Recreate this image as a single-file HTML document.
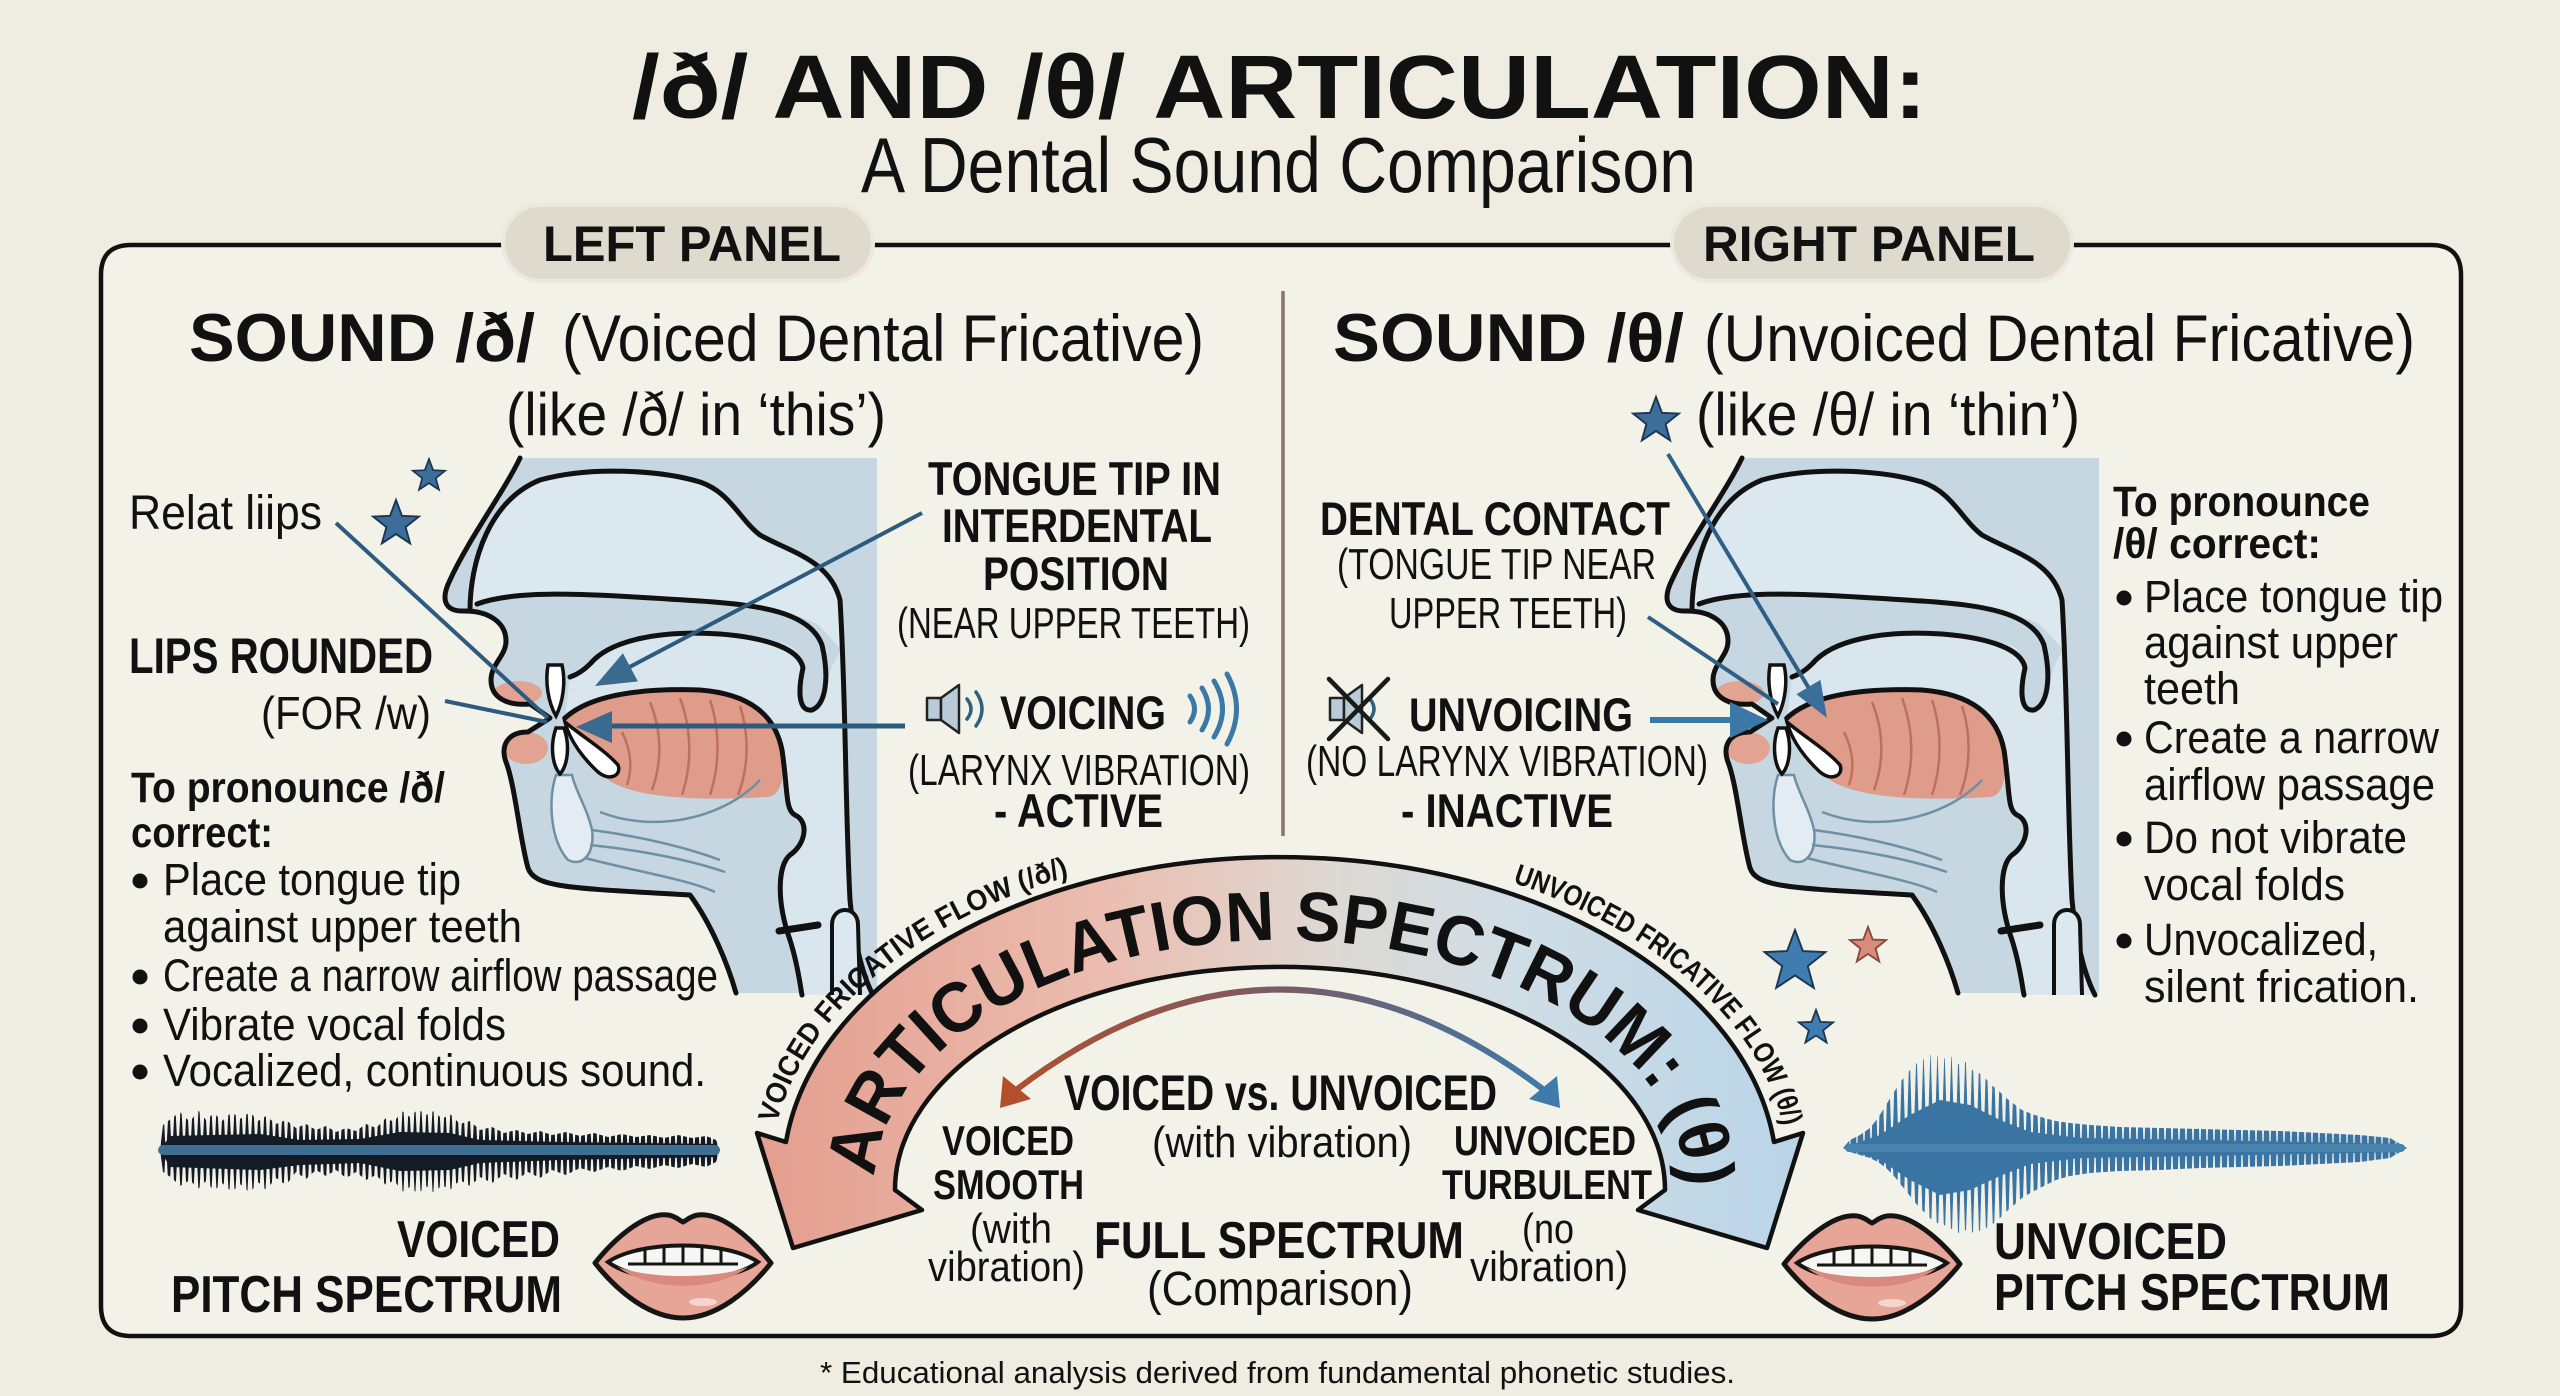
<!DOCTYPE html>
<html><head><meta charset="utf-8"><title>/ð/ and /θ/ Articulation</title>
<style>html,body{margin:0;padding:0;background:#efede2;}svg{display:block;}</style></head>
<body>
<svg width="2560" height="1396" viewBox="0 0 2560 1396" xmlns="http://www.w3.org/2000/svg" xmlns:xlink="http://www.w3.org/1999/xlink" font-family="'Liberation Sans', Arial, sans-serif">
<defs>
  <linearGradient id="band" gradientUnits="userSpaceOnUse" x1="760" y1="0" x2="1810" y2="0">
    <stop offset="0" stop-color="#e49e8e"/>
    <stop offset="0.33" stop-color="#ebbdb0"/>
    <stop offset="0.55" stop-color="#ddd9d3"/>
    <stop offset="0.72" stop-color="#cfdde6"/>
    <stop offset="1" stop-color="#b9d4e7"/>
  </linearGradient>
  <linearGradient id="inarr" gradientUnits="userSpaceOnUse" x1="1000" y1="0" x2="1560" y2="0">
    <stop offset="0" stop-color="#b24f2c"/>
    <stop offset="0.5" stop-color="#7a5a66"/>
    <stop offset="1" stop-color="#3c7bab"/>
  </linearGradient>
  <pattern id="spL" patternUnits="userSpaceOnUse" x="160" y="1100" width="6" height="100">
    <polygon points="3,0 5.6,50 3,100 0.4,50" fill="#141b24"/>
  </pattern>
  <pattern id="spR" patternUnits="userSpaceOnUse" x="1843" y="1048" width="7" height="200">
    <polygon points="3.5,0 6.6,100 3.5,200 0.4,100" fill="#3a74a3"/>
  </pattern>
  <clipPath id="cL"><polygon points="160,1150 163,1125 172,1118 180,1112 190,1122 198,1110 206,1120 214,1113 222,1121 232,1112 240,1119 250,1112 258,1121 266,1116 276,1124 286,1120 296,1128 306,1124 316,1130 326,1126 336,1132 346,1128 356,1131 366,1124 376,1128 386,1118 394,1122 402,1111 410,1117 418,1109 426,1115 434,1111 442,1119 450,1114 460,1124 470,1121 480,1130 492,1127 504,1133 516,1130 528,1134 540,1131 552,1135 566,1132 580,1136 594,1133 608,1137 622,1134 636,1137 650,1135 664,1138 678,1135 692,1138 706,1136 716,1140 720,1150 716,1162 706,1167 692,1164 678,1168 664,1165 650,1169 636,1166 622,1171 608,1167 594,1172 580,1168 566,1175 552,1170 540,1178 528,1172 516,1180 504,1174 492,1183 480,1177 470,1186 460,1180 450,1190 442,1185 434,1193 426,1186 418,1194 410,1187 402,1192 394,1180 386,1185 376,1175 366,1180 356,1172 346,1178 336,1170 326,1176 316,1170 306,1179 296,1172 286,1185 276,1178 266,1190 258,1182 250,1193 240,1184 232,1192 222,1183 214,1191 206,1181 198,1189 190,1180 180,1186 172,1178 163,1172"/></clipPath>
  <clipPath id="cR"><polygon points="1843,1148 1850,1140 1860,1135 1870,1128 1878,1118 1886,1105 1894,1092 1902,1080 1910,1070 1918,1062 1926,1058 1934,1052 1942,1060 1950,1055 1958,1064 1966,1062 1974,1072 1982,1074 1990,1084 1998,1090 2006,1098 2014,1104 2022,1110 2032,1114 2044,1118 2056,1121 2070,1123 2090,1125 2120,1127 2160,1128 2200,1129 2240,1130 2280,1131 2320,1133 2360,1135 2390,1138 2407,1148 2390,1158 2360,1162 2320,1164 2280,1166 2240,1167 2200,1168 2160,1170 2120,1171 2090,1173 2070,1176 2056,1180 2044,1186 2032,1192 2022,1198 2014,1205 2006,1212 1998,1220 1990,1226 1982,1230 1974,1233 1966,1230 1958,1233 1950,1228 1942,1224 1934,1222 1926,1214 1918,1206 1910,1196 1902,1186 1894,1176 1886,1168 1878,1162 1870,1158 1860,1155 1850,1152"/></clipPath>
  <path id="tpMain" d="M875,1185 A405,245 0 1 1 1685,1185" fill="none"/>
  <path id="tpOuter" d="M770,1178 A510,332 0 0 1 1790,1178" fill="none"/>

  <g id="head">
    <path d="M520,458 C505,490 468,540 450,580 C440,600 445,612 465,611 C488,611 506,622 506,641 C506,656 491,664 491,680 C491,697 506,706 530,704 L550,718 L528,732 C508,732 500,745 506,762 C515,785 520,840 528,868 C535,888 570,888 690,895 C712,925 728,965 736,993 L877,993 L877,458 Z" fill="#c7d7e1"/>
    <path d="M470,611 C470,560 490,500 540,480 C590,466 660,470 700,482 C730,492 740,520 760,535 C790,552 830,560 840,600 L843,650 C830,640 822,625 813,622 C780,608 740,603 700,601 C600,595 520,588 477,604 Z" fill="#dce8ef"/>
    <path d="M570,677 C590,664 610,640 663,632 C720,634 770,638 790,646 C800,650 803,668 800,696 C798,712 812,710 820,706 C826,690 830,660 843,650 L847,801 C850,900 855,950 873,995 L802,995 C800,985 798,965 790,940 C776,900 778,865 790,855 C805,845 810,822 795,815 C785,810 790,790 782,750 C775,715 750,694 700,690 C640,688 590,695 565,718 Z" fill="#d9e6ed"/>
    <path d="M563,722 C585,698 640,688 700,690 C750,693 775,712 781,745 C786,775 782,795 768,797 C720,800 660,800 625,788 C595,778 575,750 563,722 Z" fill="#df9c8b"/>
    <g stroke="#bf6f5d" stroke-width="2.5" fill="none">
      <path d="M650,702 C662,732 662,762 652,790"/>
      <path d="M680,698 C692,730 692,765 682,795"/>
      <path d="M710,700 C720,730 720,765 710,795"/>
      <path d="M740,706 C750,736 748,770 738,795"/>
      <path d="M622,732 C632,752 632,770 627,785"/>
    </g>
    <ellipse cx="518" cy="693" rx="24" ry="12" fill="#e3a392"/>
    <ellipse cx="526" cy="748" rx="22" ry="16" fill="#e3a392"/>
    <path d="M556,775 C548,800 550,840 568,860 C585,868 595,850 592,830 C588,810 575,790 572,775 Z" fill="#e2ecf2" stroke="#6f8fa3" stroke-width="2.5"/>
    <g stroke="#6f8fa3" stroke-width="2.5" fill="none">
      <path d="M592,830 C630,835 680,845 720,860"/>
      <path d="M590,845 C640,850 690,860 725,872"/>
      <path d="M585,858 C630,870 690,880 715,892"/>
      <path d="M600,812 C650,832 720,822 760,780"/>
    </g>
    <g stroke="#111" stroke-width="5" fill="none" stroke-linejoin="round" stroke-linecap="round">
      <path d="M520,458 C505,490 468,540 450,580 C440,600 445,612 465,611 C488,611 506,622 506,641 C506,656 491,664 491,680 C491,697 506,706 530,704 L550,718 L528,732 C508,732 500,745 506,762 C515,785 520,840 528,868 C535,888 570,888 690,895 C712,925 728,965 736,993"/>
      <path d="M470,611 C470,560 490,500 540,480 C590,466 660,470 700,482 C730,492 740,520 760,535 C790,552 830,560 840,600 C846,700 845,800 850,900 C855,950 865,980 873,995"/>
      <path d="M477,604 C520,588 600,595 700,601 C760,605 810,612 822,645 C830,680 825,705 812,710 C798,712 798,690 803,668 C800,650 770,638 720,634 C660,630 610,640 590,664 C582,672 576,675 570,677"/>
      <path d="M565,718 C590,695 640,688 700,690 C750,694 775,715 782,750 C788,790 785,810 795,815 C810,822 805,845 790,855 C778,865 776,900 790,940 C798,965 800,985 802,995"/>
      <path d="M779,931 L818,925" stroke-width="7"/>
    </g>
    <path d="M832,995 L832,925 C832,905 858,905 858,925 L860,995" fill="#dce8ef" stroke="#111" stroke-width="4"/>
    <path d="M548,665 C545,682 548,702 556,716 C563,702 566,682 562,665 Z" fill="#fff" stroke="#111" stroke-width="3.5"/>
    <path d="M556,728 C550,745 552,765 560,774 C568,765 570,745 564,728 Z" fill="#fff" stroke="#111" stroke-width="3.5"/>
    <path d="M565,722 C580,735 605,750 618,765 C622,775 610,782 598,772 C585,760 570,742 565,722 Z" fill="#fff" stroke="#111" stroke-width="3.5"/>
  </g>

  <g id="lips">
    <path d="M595,1263 C615,1238 645,1212 668,1215 C676,1216 680,1221 683,1222 C686,1221 690,1216 698,1215 C721,1212 751,1238 771,1263 C748,1292 716,1318 683,1318 C650,1318 618,1292 595,1263 Z" fill="#e6a596" stroke="#151515" stroke-width="5" stroke-linejoin="round"/>
    <path d="M608,1262 C640,1240 726,1240 758,1262 C726,1286 640,1286 608,1262 Z" fill="#f6f6f4" stroke="#151515" stroke-width="4"/>
    <path d="M618,1267 C650,1292 716,1292 748,1267 C716,1279 650,1279 618,1267 Z" fill="#d98a7c"/>
    <g stroke="#151515" stroke-width="3">
      <line x1="628" y1="1264" x2="738" y2="1264"/>
      <line x1="645" y1="1248" x2="645" y2="1264"/>
      <line x1="664" y1="1246" x2="664" y2="1264"/>
      <line x1="683" y1="1245" x2="683" y2="1264"/>
      <line x1="702" y1="1246" x2="702" y2="1264"/>
      <line x1="721" y1="1248" x2="721" y2="1264"/>
    </g>
    <ellipse cx="703" cy="1302" rx="14" ry="4" fill="#fff" opacity="0.55"/>
  </g>
  <polygon id="star" points="0,-1 0.247,-0.34 0.951,-0.309 0.399,0.13 0.588,0.809 0,0.42 -0.588,0.809 -0.399,0.13 -0.951,-0.309 -0.247,-0.34"/>
</defs>

<!-- background -->
<rect x="0" y="0" width="2560" height="1396" fill="#efede2"/>
<rect x="101" y="245" width="2360" height="1091" rx="30" fill="#f3f2e8"/>

<!-- Title -->
<text x="632" y="118" font-size="90" font-weight="bold" fill="#111" textLength="1295" lengthAdjust="spacingAndGlyphs">/ð/ AND /θ/ ARTICULATION:</text>
<text x="861" y="192" font-size="78" fill="#111" textLength="835" lengthAdjust="spacingAndGlyphs">A Dental Sound Comparison</text>

<!-- Panel border -->
<g stroke="#111" stroke-width="4.5" fill="none" stroke-linecap="round">
  <path d="M503,245 L131,245 Q101,245 101,275 L101,1306 Q101,1336 131,1336 L2431,1336 Q2461,1336 2461,1306 L2461,275 Q2461,245 2431,245 L2072,245"/>
  <path d="M873,245 L1672,245"/>
</g>
<rect x="503" y="205" width="370" height="76" rx="38" fill="#dedacd" stroke="#ebe8de" stroke-width="4"/>
<rect x="1672" y="205" width="400" height="76" rx="38" fill="#dedacd" stroke="#ebe8de" stroke-width="4"/>
<text x="543" y="261" font-size="50" font-weight="bold" fill="#111" textLength="298" lengthAdjust="spacingAndGlyphs">LEFT PANEL</text>
<text x="1703" y="261" font-size="50" font-weight="bold" fill="#111" textLength="332" lengthAdjust="spacingAndGlyphs">RIGHT PANEL</text>

<!-- divider -->
<line x1="1283" y1="291" x2="1283" y2="836" stroke="#86766a" stroke-width="3.5"/>

<!-- Headers -->
<text x="189" y="361" font-size="68" font-weight="bold" fill="#111" textLength="346" lengthAdjust="spacingAndGlyphs">SOUND /ð/</text>
<text x="562" y="361" font-size="66" fill="#111" textLength="642" lengthAdjust="spacingAndGlyphs">(Voiced Dental Fricative)</text>
<text x="506" y="435" font-size="60" fill="#111" textLength="380" lengthAdjust="spacingAndGlyphs">(like /ð/ in ‘this’)</text>
<text x="1333" y="361" font-size="68" font-weight="bold" fill="#111" textLength="351" lengthAdjust="spacingAndGlyphs">SOUND /θ/</text>
<text x="1704" y="361" font-size="66" fill="#111" textLength="711" lengthAdjust="spacingAndGlyphs">(Unvoiced Dental Fricative)</text>
<text x="1696" y="435" font-size="60" fill="#111" textLength="384" lengthAdjust="spacingAndGlyphs">(like /θ/ in ‘thin’)</text>

<!-- Heads -->
<use xlink:href="#head" href="#head"/>
<use xlink:href="#head" href="#head" transform="translate(1222,0)"/>

<!-- Stars -->
<g fill="#3d6e9b" stroke="#1c3550">
  <use xlink:href="#star" href="#star" transform="translate(429,476) scale(17)" stroke-width="0.1"/>
  <use xlink:href="#star" href="#star" transform="translate(396,524) scale(24)" stroke-width="0.08"/>
  <use xlink:href="#star" href="#star" transform="translate(1656,421) scale(24)" stroke-width="0.08"/>
  <use xlink:href="#star" href="#star" transform="translate(1795,962) scale(32)" stroke-width="0.06" fill="#3f7db0"/>
  <use xlink:href="#star" href="#star" transform="translate(1816,1028) scale(18)" stroke-width="0.1" fill="#3f7db0"/>
</g>
<use xlink:href="#star" href="#star" transform="translate(1868,946) scale(19)" fill="#d98c7c" stroke="#8a4a3e" stroke-width="0.1"/>

<!-- Left labels -->
<text x="129" y="529" font-size="48" fill="#111" textLength="193" lengthAdjust="spacingAndGlyphs">Relat liips</text>
<text x="129" y="673" font-size="50" font-weight="bold" fill="#111" textLength="304" lengthAdjust="spacingAndGlyphs">LIPS ROUNDED</text>
<text x="261" y="729" font-size="46" fill="#111" textLength="170" lengthAdjust="spacingAndGlyphs">(FOR /w)</text>
<text x="131" y="802" font-size="43" font-weight="bold" fill="#111" textLength="314" lengthAdjust="spacingAndGlyphs">To pronounce /ð/</text>
<text x="131" y="847" font-size="43" font-weight="bold" fill="#111" textLength="142" lengthAdjust="spacingAndGlyphs">correct:</text>
<g fill="#111">
  <circle cx="140" cy="881" r="7.5"/><circle cx="140" cy="977" r="7.5"/><circle cx="140" cy="1026" r="7.5"/><circle cx="140" cy="1072" r="7.5"/>
</g>
<g font-size="45" fill="#111">
  <text x="163" y="895" textLength="298" lengthAdjust="spacingAndGlyphs">Place tongue tip</text>
  <text x="163" y="942" textLength="359" lengthAdjust="spacingAndGlyphs">against upper teeth</text>
  <text x="163" y="991" textLength="555" lengthAdjust="spacingAndGlyphs">Create a narrow airflow passage</text>
  <text x="163" y="1040" textLength="343" lengthAdjust="spacingAndGlyphs">Vibrate vocal folds</text>
  <text x="163" y="1086" textLength="543" lengthAdjust="spacingAndGlyphs">Vocalized, continuous sound.</text>
</g>

<!-- Left head arrows -->
<g stroke="#2d5a7d" stroke-width="4" fill="none">
  <line x1="336" y1="523" x2="548" y2="718"/>
  <line x1="445" y1="701" x2="547" y2="722"/>
  <line x1="922" y1="513" x2="622" y2="671"/>
  <line x1="905" y1="726" x2="605" y2="726" stroke-width="5"/>
</g>
<polygon points="595,686 637.9,681.4 622.9,653.2" fill="#3a6a8e"/>
<polygon points="576,727 612,711 612,743" fill="#3a6a8e"/>

<!-- Middle-left labels -->
<g font-weight="bold" font-size="47" fill="#111">
  <text x="928" y="495" textLength="293" lengthAdjust="spacingAndGlyphs">TONGUE TIP IN</text>
  <text x="942" y="542" textLength="270" lengthAdjust="spacingAndGlyphs">INTERDENTAL</text>
  <text x="983" y="590" textLength="186" lengthAdjust="spacingAndGlyphs">POSITION</text>
  <text x="1000" y="729" textLength="166" lengthAdjust="spacingAndGlyphs">VOICING</text>
  <text x="994" y="827" textLength="169" lengthAdjust="spacingAndGlyphs">- ACTIVE</text>
</g>
<g font-size="44" fill="#111">
  <text x="897" y="638" textLength="353" lengthAdjust="spacingAndGlyphs">(NEAR UPPER TEETH)</text>
  <text x="908" y="785" textLength="342" lengthAdjust="spacingAndGlyphs">(LARYNX VIBRATION)</text>
</g>
<!-- speaker left -->
<g stroke="#222" stroke-width="2.5" fill="#b9cbd7" stroke-linejoin="round">
  <rect x="927" y="698" width="14" height="22"/>
  <polygon points="941,698 959,685 959,733 941,720"/>
</g>
<g stroke="#2f5f82" stroke-width="3.5" fill="none" stroke-linecap="round">
  <path d="M967,699 Q975,709 967,719"/>
  <path d="M976,692 Q988,709 976,726"/>
</g>
<g stroke="#3a78a8" stroke-width="5" fill="none" stroke-linecap="round">
  <path d="M1190,696 Q1199,709 1190,722"/>
  <path d="M1202,688 Q1215,709 1202,730"/>
  <path d="M1214,681 Q1231,709 1214,737"/>
  <path d="M1227,674 Q1246,709 1227,744"/>
</g>

<!-- Middle-right labels -->
<g font-weight="bold" font-size="47" fill="#111">
  <text x="1320" y="535" textLength="350" lengthAdjust="spacingAndGlyphs">DENTAL CONTACT</text>
  <text x="1409" y="731" textLength="224" lengthAdjust="spacingAndGlyphs">UNVOICING</text>
  <text x="1401" y="827" textLength="212" lengthAdjust="spacingAndGlyphs">- INACTIVE</text>
</g>
<g font-size="44" fill="#111">
  <text x="1337" y="579" textLength="319" lengthAdjust="spacingAndGlyphs">(TONGUE TIP NEAR</text>
  <text x="1389" y="628" textLength="238" lengthAdjust="spacingAndGlyphs">UPPER TEETH)</text>
  <text x="1306" y="776" textLength="402" lengthAdjust="spacingAndGlyphs">(NO LARYNX VIBRATION)</text>
</g>
<!-- muted speaker -->
<g stroke="#222" stroke-width="2.5" fill="#b9cbd7" stroke-linejoin="round">
  <rect x="1330" y="698" width="14" height="22"/>
  <polygon points="1344,698 1362,685 1362,733 1344,720"/>
</g>
<path d="M1370,699 Q1378,709 1370,719" stroke="#2f5f82" stroke-width="3.5" fill="none"/>
<g stroke="#1a1a1a" stroke-width="4.5" stroke-linecap="round">
  <line x1="1329" y1="679" x2="1388" y2="739"/>
  <line x1="1388" y1="679" x2="1329" y2="739"/>
</g>
<!-- right head arrows -->
<g stroke="#2f5f86" stroke-width="4" fill="none">
  <line x1="1668" y1="454" x2="1810" y2="690"/>
  <line x1="1648" y1="617" x2="1778" y2="704"/>
</g>
<polygon points="1827,718 1820.4,679.9 1796.4,694.3" fill="#3b6f9a"/>
<line x1="1650" y1="720" x2="1735" y2="720" stroke="#3a78a8" stroke-width="6"/>
<polygon points="1768,720 1730,702 1730,738" fill="#3a78a8"/>

<!-- Right column -->
<text x="2113" y="516" font-size="43" font-weight="bold" fill="#111" textLength="257" lengthAdjust="spacingAndGlyphs">To pronounce</text>
<text x="2113" y="558" font-size="43" font-weight="bold" fill="#111" textLength="208" lengthAdjust="spacingAndGlyphs">/θ/ correct:</text>
<g fill="#111">
  <circle cx="2124" cy="598" r="7.5"/><circle cx="2124" cy="739" r="7.5"/><circle cx="2124" cy="839" r="7.5"/><circle cx="2124" cy="941" r="7.5"/>
</g>
<g font-size="45" fill="#111">
  <text x="2144" y="612" textLength="299" lengthAdjust="spacingAndGlyphs">Place tongue tip</text>
  <text x="2144" y="658" textLength="254" lengthAdjust="spacingAndGlyphs">against upper</text>
  <text x="2144" y="704" textLength="96" lengthAdjust="spacingAndGlyphs">teeth</text>
  <text x="2144" y="753" textLength="295" lengthAdjust="spacingAndGlyphs">Create a narrow</text>
  <text x="2144" y="800" textLength="291" lengthAdjust="spacingAndGlyphs">airflow passage</text>
  <text x="2144" y="853" textLength="263" lengthAdjust="spacingAndGlyphs">Do not vibrate</text>
  <text x="2144" y="900" textLength="201" lengthAdjust="spacingAndGlyphs">vocal folds</text>
  <text x="2144" y="955" textLength="234" lengthAdjust="spacingAndGlyphs">Unvocalized,</text>
  <text x="2144" y="1002" textLength="275" lengthAdjust="spacingAndGlyphs">silent frication.</text>
</g>

<!-- Spectrum arc -->
<path d="M786,1142 A497,320 0 0 1 1774,1142 L1803,1133 L1767,1248 L1638,1210 L1665,1190 A385,223 0 1 0 895,1190 L922,1210 L793,1248 L757,1133 Z" fill="url(#band)" stroke="#111" stroke-width="4.5" stroke-linejoin="round"/>
<text font-size="70" font-weight="bold" fill="#111"><textPath xlink:href="#tpMain" href="#tpMain" startOffset="8" textLength="1030" lengthAdjust="spacingAndGlyphs">ARTICULATION SPECTRUM: (θ)</textPath></text>
<text font-size="29" font-weight="bold" fill="#111"><textPath xlink:href="#tpOuter" href="#tpOuter" startOffset="55" textLength="400" lengthAdjust="spacingAndGlyphs">VOICED FRICATIVE FLOW (/ð/)</textPath></text>
<text font-size="29" font-weight="bold" fill="#111"><textPath xlink:href="#tpOuter" href="#tpOuter" startOffset="905" textLength="380" lengthAdjust="spacingAndGlyphs">UNVOICED FRICATIVE FLOW (θ/)</textPath></text>

<!-- inner double arrow -->
<path d="M1016,1090 Q1280,889 1544,1090" stroke="url(#inarr)" stroke-width="6" fill="none"/>
<polygon points="1000,1108 1003,1076 1031,1099" fill="#b24f2c"/>
<polygon points="1560,1108 1557,1076 1529,1099" fill="#3c7bab"/>

<!-- center labels -->
<g font-weight="bold" fill="#111">
  <text x="1064" y="1110" font-size="50" textLength="433" lengthAdjust="spacingAndGlyphs">VOICED vs. UNVOICED</text>
  <text x="942" y="1155" font-size="42" textLength="132" lengthAdjust="spacingAndGlyphs">VOICED</text>
  <text x="933" y="1199" font-size="42" textLength="151" lengthAdjust="spacingAndGlyphs">SMOOTH</text>
  <text x="1454" y="1155" font-size="42" textLength="182" lengthAdjust="spacingAndGlyphs">UNVOICED</text>
  <text x="1442" y="1199" font-size="42" textLength="210" lengthAdjust="spacingAndGlyphs">TURBULENT</text>
  <text x="1094" y="1258" font-size="52" textLength="370" lengthAdjust="spacingAndGlyphs">FULL SPECTRUM</text>
</g>
<g fill="#111">
  <text x="1152" y="1157" font-size="44" textLength="260" lengthAdjust="spacingAndGlyphs">(with vibration)</text>
  <text x="970" y="1243" font-size="42" textLength="82" lengthAdjust="spacingAndGlyphs">(with</text>
  <text x="928" y="1281" font-size="42" textLength="157" lengthAdjust="spacingAndGlyphs">vibration)</text>
  <text x="1522" y="1243" font-size="42" textLength="52" lengthAdjust="spacingAndGlyphs">(no</text>
  <text x="1470" y="1281" font-size="42" textLength="158" lengthAdjust="spacingAndGlyphs">vibration)</text>
  <text x="1147" y="1305" font-size="48" textLength="266" lengthAdjust="spacingAndGlyphs">(Comparison)</text>
</g>

<!-- waveforms -->
<rect x="160" y="1100" width="562" height="100" fill="url(#spL)" clip-path="url(#cL)"/>
<polygon points="160,1150 170,1136 260,1134 300,1140 360,1139 400,1132 450,1133 480,1140 560,1142 716,1144 720,1150 716,1157 560,1160 480,1163 450,1170 400,1171 360,1163 300,1165 260,1170 170,1167" fill="#141b24"/>
<rect x="158" y="1145" width="562" height="10" rx="5" fill="#3f6f93"/>
<rect x="1843" y="1048" width="566" height="200" fill="url(#spR)" clip-path="url(#cR)"/>
<polygon points="1843,1148 1880,1135 1910,1115 1940,1100 1970,1105 2000,1120 2030,1132 2080,1138 2200,1140 2400,1144 2407,1148 2400,1152 2200,1156 2080,1158 2030,1164 2000,1176 1970,1190 1940,1195 1910,1180 1880,1160" fill="#3a74a3"/>
<rect x="1845" y="1144" width="560" height="8" rx="4" fill="#4a82ae"/>

<!-- lips -->
<use xlink:href="#lips" href="#lips"/>
<use xlink:href="#lips" href="#lips" transform="translate(1189,1)"/>

<!-- bottom labels -->
<g font-weight="bold" font-size="52" fill="#111">
  <text x="397" y="1257" textLength="163" lengthAdjust="spacingAndGlyphs">VOICED</text>
  <text x="171" y="1312" textLength="391" lengthAdjust="spacingAndGlyphs">PITCH SPECTRUM</text>
  <text x="1994" y="1259" textLength="233" lengthAdjust="spacingAndGlyphs">UNVOICED</text>
  <text x="1994" y="1310" textLength="396" lengthAdjust="spacingAndGlyphs">PITCH SPECTRUM</text>
</g>

<!-- footer -->
<text x="820" y="1383" font-size="31" fill="#111" textLength="915" lengthAdjust="spacingAndGlyphs">* Educational analysis derived from fundamental phonetic studies.</text>
</svg>
</body></html>
